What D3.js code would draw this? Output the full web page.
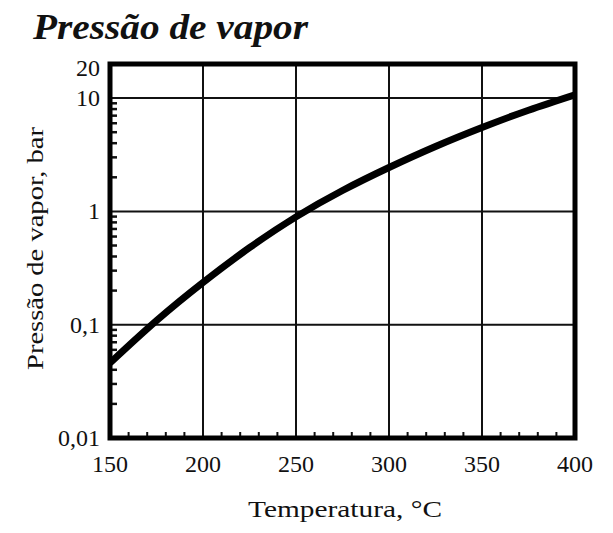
<!DOCTYPE html>
<html><head><meta charset="utf-8">
<script src="https://cdn.jsdelivr.net/npm/d3@7"></script>
<style>body{margin:0;background:#fff}svg{display:block}
text{font-family:"Liberation Serif","Times New Roman","DejaVu Serif",serif}</style>
</head><body>
<svg id="c" width="613" height="533"></svg>
<script>
const temperatures = [150, 175, 200, 225, 250, 275, 300, 325, 350, 375, 400];
const pressures = [0.046, 0.1087, 0.236, 0.478, 0.895, 1.53, 2.44, 3.74, 5.5, 7.82, 10.7];
const xTicks = [150, 200, 250, 300, 350, 400];
const yTicks = [0.01, 0.1, 1, 10, 20];
const yTickLabels = ["0,01", "0,1", "1", "10", "20"];
const title = "Pressão de vapor";
const xTitle = "Temperatura, °C";
const yTitle = "Pressão de vapor, bar";

const svg = d3.select("#c");
const L = 110, R = 575, T = 64, B = 438;
const x = d3.scaleLinear().domain([150, 400]).range([L, R]);
const y = d3.scaleLog().domain([0.01, 20]).range([B, T]);

// grid
svg.append("g").selectAll("line").data(xTicks.filter(v => v > 150 && v < 400)).join("line")
  .attr("x1", d => x(d)).attr("x2", d => x(d)).attr("y1", T).attr("y2", B)
  .attr("stroke", "#111").attr("stroke-width", 2);
svg.append("g").selectAll("line").data([0.1, 1, 10]).join("line")
  .attr("y1", d => y(d)).attr("y2", d => y(d)).attr("x1", L).attr("x2", R)
  .attr("stroke", "#111").attr("stroke-width", 2);

// minor ticks
const yMinor = [];
[0.01, 0.1, 1].forEach(dec => { for (let k = 2; k <= 9; k++) yMinor.push(dec * k); });
svg.append("g").selectAll("line").data(yMinor).join("line")
  .attr("x1", L).attr("x2", L + 7).attr("y1", d => y(d)).attr("y2", d => y(d))
  .attr("stroke", "#111").attr("stroke-width", 2.5);
const xMinor = d3.range(160, 400, 10).filter(v => v % 50 !== 0);
svg.append("g").selectAll("line").data(xMinor).join("line")
  .attr("x1", d => x(d)).attr("x2", d => x(d)).attr("y1", B).attr("y2", B - 6)
  .attr("stroke", "#111").attr("stroke-width", 2);

// curve
svg.append("clipPath").attr("id", "clip").append("rect")
  .attr("x", L).attr("y", T).attr("width", R - L).attr("height", B - T);
const line = d3.line().x((d, i) => x(temperatures[i])).y(d => y(d)).curve(d3.curveNatural);
svg.append("path").datum(pressures).attr("d", line).attr("clip-path", "url(#clip)")
  .attr("fill", "none").attr("stroke", "#000").attr("stroke-width", 7);

// border
svg.append("rect").attr("x", L).attr("y", T).attr("width", R - L).attr("height", B - T)
  .attr("fill", "none").attr("stroke", "#000").attr("stroke-width", 5);

// tick labels
svg.append("g").selectAll("text").data(xTicks).join("text")
  .attr("x", d => x(d)).attr("y", 472).attr("text-anchor", "middle")
  .style("font-size", "24px").attr("fill", "#111")
  .text(d => d);
svg.append("g").selectAll("text").data(yTicks).join("text")
  .attr("x", 100).attr("y", (d, i) => y(d) + 8 + (d === 20 ? 4 : 0)).attr("text-anchor", "end")
  .style("font-size", "24px").attr("fill", "#111")
  .text((d, i) => yTickLabels[i]);

// titles
svg.append("text").attr("x", 33).attr("y", 39)
  .style("font-size", "35px").style("font-weight", "bold").style("font-style", "italic")
  .attr("textLength", 275).attr("lengthAdjust", "spacingAndGlyphs").attr("fill", "#111")
  .text(title);
svg.append("text").attr("x", 248).attr("y", 517)
  .style("font-size", "24px")
  .attr("textLength", 194).attr("lengthAdjust", "spacingAndGlyphs").attr("fill", "#111")
  .text(xTitle);
svg.append("text").attr("transform", "translate(43,370) rotate(-90)")
  .style("font-size", "24px")
  .attr("textLength", 243).attr("lengthAdjust", "spacingAndGlyphs").attr("fill", "#111")
  .text(yTitle);
</script>
</body></html>
